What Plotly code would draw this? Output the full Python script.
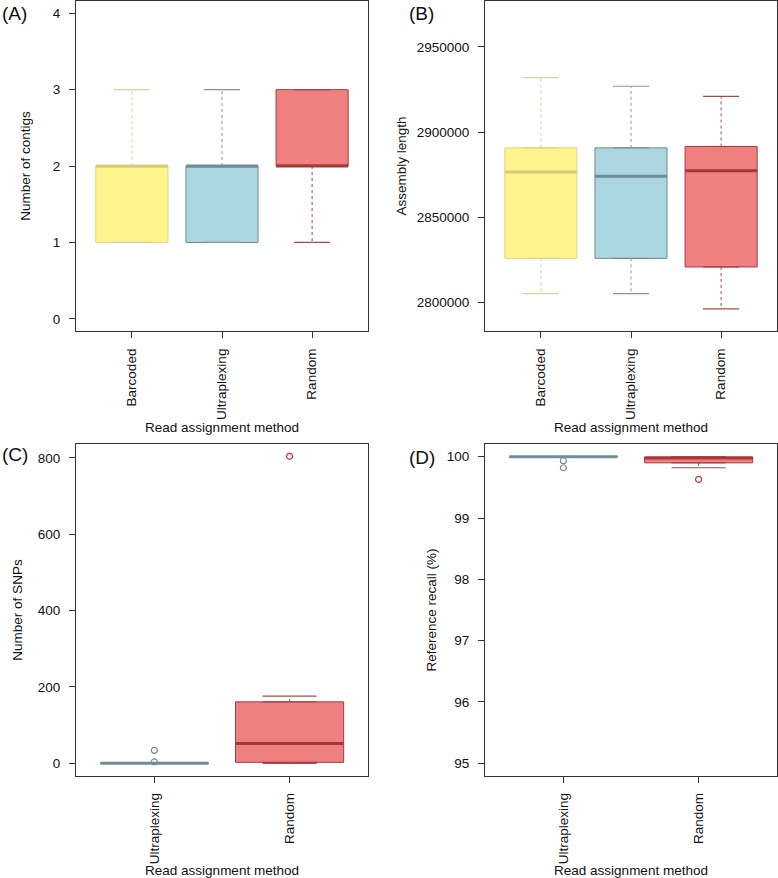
import plotly.graph_objects as go

# ---------------- data ----------------
methods_abc = ["Barcoded", "Ultraplexing", "Random"]
methods_cd = ["Ultraplexing", "Random"]

# (A) Number of contigs
contigs_low = [1, 1, 1]
contigs_q1 = [1, 1, 2]
contigs_med = [2, 2, 2]
contigs_q3 = [2, 2, 3]
contigs_high = [3, 3, 3]

# (B) Assembly length
length_low = [2805000, 2805000, 2796100]
length_q1 = [2825750, 2825750, 2820700]
length_med = [2876500, 2874000, 2877300]
length_q3 = [2890700, 2890700, 2891500]
length_high = [2932000, 2926900, 2920900]

# (C) Number of SNPs
snp_low = [0, 0]
snp_q1 = [0, 2.6]
snp_med = [0, 52]
snp_q3 = [0, 161]
snp_high = [0, 176]
snp_out = [[34, 4], [804]]

# (D) Reference recall (%)
recall_low = [100.0, 99.82]
recall_q1 = [100.0, 99.90]
recall_med = [100.0, 99.98]
recall_q3 = [100.0, 99.995]
recall_high = [100.0, 100.0]
recall_out = [[99.935, 99.82], [99.63]]

fills = {"Barcoded": "#FFF38C", "Ultraplexing": "#ABD6DF", "Random": "#F08080"}
borders = {"Barcoded": "#DCD48C", "Ultraplexing": "#6F8D96", "Random": "#A63C3C"}
medcols = {"Barcoded": "#D6CD7A", "Ultraplexing": "#6F8D96", "Random": "#A83838"}
whiskcols = {"Barcoded": "#D9D19A", "Ultraplexing": "#7F9AA2", "Random": "#A84848"}

FONT = "Liberation Sans, Arial, Helvetica, sans-serif"
FS = 13.5

fig = go.Figure()


def add_panel(idx, cats, low, q1, med, q3, high, outliers=None):
    xa = "x" if idx == 1 else f"x{idx}"
    ya = "y" if idx == 1 else f"y{idx}"
    for i, c in enumerate(cats):
        pos = i + 1
        fig.add_trace(go.Box(
            x=[pos], q1=[q1[i]], median=[med[i]], q3=[q3[i]],
            lowerfence=[q1[i]], upperfence=[q3[i]],
            width=0.8, fillcolor=fills[c],
            line=dict(color=borders[c], width=1),
            boxpoints=False, hoverinfo="skip", showlegend=False,
            xaxis=xa, yaxis=ya))
        # dashed whiskers
        fig.add_trace(go.Scatter(
            x=[pos, pos, None, pos, pos],
            y=[q3[i], high[i], None, q1[i], low[i]],
            mode="lines", line=dict(color=whiskcols[c], width=1, dash="3px,3px"),
            hoverinfo="skip", showlegend=False, xaxis=xa, yaxis=ya))
        # whisker caps
        fig.add_trace(go.Scatter(
            x=[pos - 0.2, pos + 0.2, None, pos - 0.2, pos + 0.2],
            y=[high[i], high[i], None, low[i], low[i]],
            mode="lines", line=dict(color=whiskcols[c], width=1.2),
            hoverinfo="skip", showlegend=False, xaxis=xa, yaxis=ya))
        # median line (thick)
        fig.add_trace(go.Scatter(
            x=[pos - 0.4, pos + 0.4], y=[med[i], med[i]],
            mode="lines", line=dict(color=medcols[c], width=3),
            hoverinfo="skip", showlegend=False, xaxis=xa, yaxis=ya))
        if outliers and outliers[i]:
            fig.add_trace(go.Scatter(
                x=[pos] * len(outliers[i]), y=outliers[i], mode="markers",
                marker=dict(symbol="circle-open", size=6, color=borders[c],
                            line=dict(width=1.2, color=borders[c])),
                hoverinfo="skip", showlegend=False, xaxis=xa, yaxis=ya))


add_panel(1, methods_abc, contigs_low, contigs_q1, contigs_med, contigs_q3, contigs_high)
add_panel(2, methods_abc, length_low, length_q1, length_med, length_q3, length_high)
add_panel(3, methods_cd, snp_low, snp_q1, snp_med, snp_q3, snp_high, snp_out)
add_panel(4, methods_cd, recall_low, recall_q1, recall_med, recall_q3, recall_high, recall_out)

W, H = 778, 878

common_axis = dict(showline=True, mirror=True, linecolor="#333333", linewidth=1.2,
                   showgrid=False, zeroline=False, ticks="outside", ticklen=6,
                   tickcolor="#333333", tickfont=dict(size=FS, color="#111111", family=FONT))


def xax(domain_px, cats, anchor, standoff):
    return dict(common_axis, domain=[domain_px[0] / W, domain_px[1] / W],
                range=[0.5 - 0.04 * len(cats), len(cats) + 0.5 + 0.04 * len(cats)],
                tickvals=list(range(1, len(cats) + 1)), ticktext=cats,
                tickangle=-90, anchor=anchor, ticklabelstandoff=5,
                title=dict(text="Read assignment method", standoff=standoff,
                           font=dict(size=FS, color="#111111", family=FONT)))


def yax(domain_px, rng, tickvals, title, standoff, anchor):
    return dict(common_axis, domain=[1 - domain_px[1] / H, 1 - domain_px[0] / H],
                range=rng, tickvals=tickvals, ticktext=[str(v) for v in tickvals],
                anchor=anchor, ticklabelstandoff=6,
                title=dict(text=title, standoff=standoff,
                           font=dict(size=FS, color="#111111", family=FONT)))


contig_ticks = [0, 1, 2, 3, 4]
length_ticks = [2800000, 2850000, 2900000, 2950000]
snp_ticks = [0, 200, 400, 600, 800]
recall_ticks = [95, 96, 97, 98, 99, 100]

fig.update_layout(
    width=W, height=H, margin=dict(l=0, r=0, t=0, b=0),
    paper_bgcolor="white", plot_bgcolor="white",
    font=dict(family=FONT, color="#111111"),
    xaxis=xax((76, 368), methods_abc, "y", 1),
    yaxis=yax((1, 333), [-0.16, 4.16], contig_ticks, "Number of contigs", 18, "x"),
    xaxis2=xax((485, 777), methods_abc, "y2", 1),
    yaxis2=yax((1, 333), [2783000, 2977000], length_ticks, "Assembly length", 6, "x2"),
    xaxis3=xax((76, 368), methods_cd, "y3", 4),
    yaxis3=yax((447, 780), [-32, 835], snp_ticks, "Number of SNPs", 11, "x3"),
    xaxis4=xax((485, 777), methods_cd, "y4", 4),
    yaxis4=yax((447, 780), [94.8, 100.2], recall_ticks, "Reference recall (%)", 6, "x4"),
)

for txt, xp, yp in [("(A)", 0, 14), ("(B)", 407, 14), ("(C)", 0, 457), ("(D)", 407, 460)]:
    fig.add_annotation(text=txt, x=xp / W, y=1 - yp / H, xref="paper", yref="paper",
                       xanchor="left", yanchor="middle", showarrow=False,
                       font=dict(size=19, color="#111111", family=FONT))

fig.write_html("out.html", config={"displayModeBar": False},
               post_script="document.body.style.margin='0';document.body.style.overflow='hidden';")
